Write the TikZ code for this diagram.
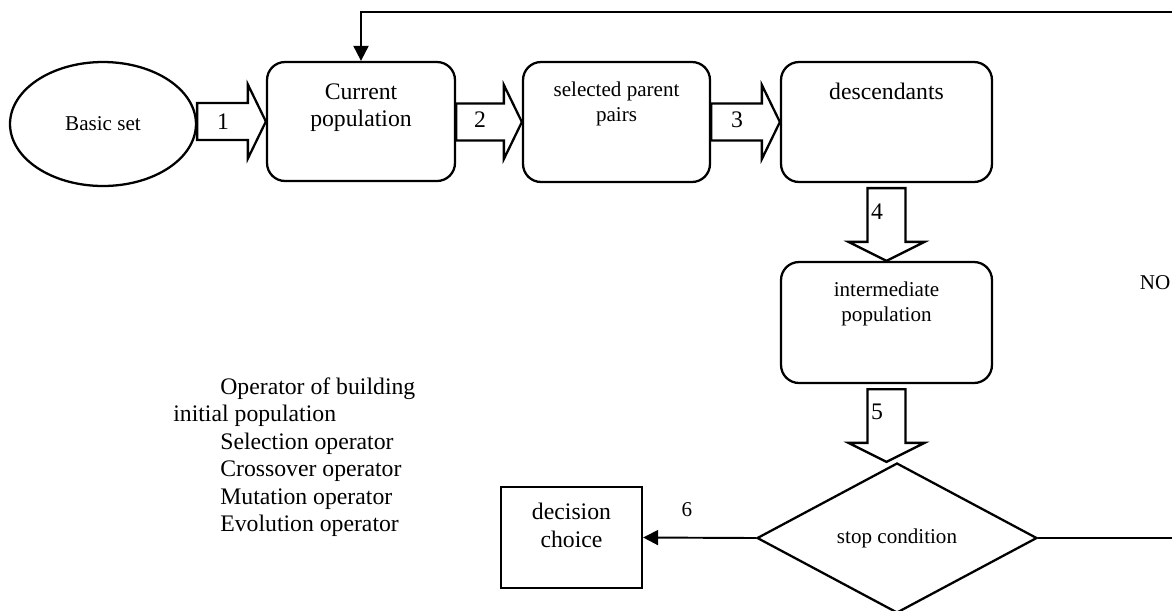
\documentclass[tikz,border=0pt]{standalone}
\usepackage{fontspec}
\setmainfont{Liberation Serif}
\usetikzlibrary{shapes.geometric, arrows.meta, calc}

\newcommand{\bigtxt}{\fontsize{13.5pt}{15.9pt}\selectfont}
\newcommand{\smalltxt}{\fontsize{12pt}{14.2pt}\selectfont}

% wide hollow arrows between the boxes
\newcommand{\fatright}[2]{%
  \coordinate (ft) at (#1 |- #2);
  \draw[fatarrow] ($(ft)+(0,-18.5)$) -- ($(#2)+(-18,-18.5)$) -- ($(#2)+(-18,-37)$) -- (#2)
    -- ($(#2)+(-18,37)$) -- ($(#2)+(-18,18.5)$) -- ($(ft)+(0,18.5)$) -- cycle;}
\newcommand{\fatdown}[2]{%
  \coordinate (fh) at (#1 |- #2);
  \draw[fatarrow] ($(#1)+(-19,5)$) -- ($(fh)+(-19,-19)$) -- ($(fh)+(-38,-19)$) -- (fh)
    -- ($(fh)+(38,-19)$) -- ($(fh)+(19,-19)$) -- ($(#1)+(19,5)$) -- cycle;}

\tikzset{
  stage/.style={draw, line width=1.3pt, rounded corners=0.36cm, align=center, inner sep=0pt},
  fatarrow/.style={line width=1.3pt, line join=miter},
  flow/.style={line width=1.1pt, -{Triangle[length=0.3cm,width=0.3cm]}},
}

\begin{document}
\begin{tikzpicture}[x=0.02cm, y=-0.02cm]
\clip (0,0) rectangle (1172,610);

\node[draw, ellipse, line width=1.3pt, minimum width=3.72cm, minimum height=2.48cm, font=\smalltxt] (basic) at (103,124) {Basic set};
\node[stage, minimum width=3.76cm, minimum height=2.38cm, font=\bigtxt] (cur) at (361,121.5) {Current\\population\\[2.7pt]\mbox{}};
\node[stage, minimum width=3.74cm, minimum height=2.4cm, font=\smalltxt] (sel) at (616.5,122) {selected parent\\pairs\\[8.9pt]\mbox{}};
\node[stage, minimum width=4.22cm, minimum height=2.4cm, font=\bigtxt] (desc) at (886.5,122) {descendants\\[19.6pt]\mbox{}};
\node[stage, minimum width=4.22cm, minimum height=2.42cm, font=\smalltxt] (inter) at (886.5,322.5) {intermediate\\population\\[9.5pt]\mbox{}};
\node[draw, diamond, aspect=1.87, line width=1.3pt, minimum width=5.6cm, minimum height=3cm, inner sep=0pt, font=\smalltxt] (stop) at (897,538) {stop condition};
\node[draw, rectangle, line width=1.3pt, minimum width=2.82cm, minimum height=2.02cm, align=center, inner sep=0pt, font=\bigtxt] (dec) at (571.5,537.5) {decision\\choice\\[-2pt]\mbox{}};

\node[anchor=north west, align=left, inner sep=0pt, font=\fontsize{13.5pt}{15.7pt}\selectfont] (ops) at (173,377) {\hspace*{0.94cm}Operator of building\\initial population\\\hspace*{0.94cm}Selection operator\\\hspace*{0.94cm}Crossover operator\\\hspace*{0.94cm}Mutation operator\\\hspace*{0.94cm}Evolution operator};
\node[font=\smalltxt] (no) at (1155,283) {NO};

\fatright{basic.east}{cur.west}
\fatright{cur.east}{sel.west}
\fatright{sel.east}{desc.west}
\fatdown{desc.south}{inter.north}
\fatdown{inter.south}{stop.north}

\node[font=\bigtxt] (n1) at (223,122) {1};
\node[font=\bigtxt] (n2) at (480,120) {2};
\node[font=\bigtxt] (n3) at (737,120) {3};
\node[font=\bigtxt] (n4) at (877,212) {4};
\node[font=\bigtxt] (n5) at (877,412) {5};
\node[font=\smalltxt] (n6) at (687,510) {6};

\coordinate (ret) at (1200,12);
\draw[flow] (stop.west) -- (dec.east);
\draw[flow] (stop.east) -| (ret) -| (cur.north);
\end{tikzpicture}
\end{document}
